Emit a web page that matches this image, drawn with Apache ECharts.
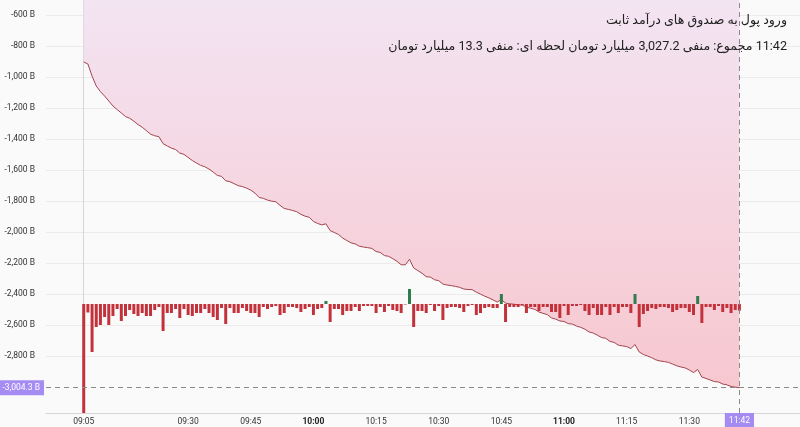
<!DOCTYPE html>
<html><head><meta charset="utf-8">
<script src="https://cdn.jsdelivr.net/npm/echarts@6/dist/echarts.min.js"></script>
<style>html,body{margin:0;padding:0;background:#fafafa}#c{width:800px;height:427px}</style>
</head><body><div id="c"></div>
<script>
const times = ["09:05","09:06","09:07","09:08","09:09","09:10","09:11","09:12","09:13","09:14","09:15","09:16","09:17","09:18","09:19","09:20","09:21","09:22","09:23","09:24","09:25","09:26","09:27","09:28","09:29","09:30","09:31","09:32","09:33","09:34","09:35","09:36","09:37","09:38","09:39","09:40","09:41","09:42","09:43","09:44","09:45","09:46","09:47","09:48","09:49","09:50","09:51","09:52","09:53","09:54","09:55","09:56","09:57","09:58","09:59",
"10:00","10:01","10:02","10:03","10:04","10:05","10:06","10:07","10:08","10:09","10:10","10:11","10:12","10:13","10:14","10:15","10:16","10:17","10:18","10:19","10:20","10:21","10:22","10:23","10:24","10:25","10:26","10:27","10:28","10:29","10:30","10:31","10:32","10:33","10:34","10:35","10:36","10:37","10:38","10:39","10:40","10:41","10:42","10:43","10:44","10:45","10:46","10:47","10:48","10:49","10:50","10:51","10:52","10:53","10:54","10:55","10:56","10:57","10:58","10:59",
"11:00","11:01","11:02","11:03","11:04","11:05","11:06","11:07","11:08","11:09","11:10","11:11","11:12","11:13","11:14","11:15","11:16","11:17","11:18","11:19","11:20","11:21","11:22","11:23","11:24","11:25","11:26","11:27","11:28","11:29","11:30","11:31","11:32","11:33","11:34","11:35","11:36","11:37","11:38","11:39","11:40","11:41","11:42"];

// per-minute flow (billion toman)
const flow = [-900,-17,-96,-46,-42,-26,-42,-24,-10,-34,-24,-12,-20,-24,-18,-24,-24,-12,-6,-54,-18,-18,-10,-28,-10,-22,-24,-18,-18,-10,
-18,-26,-32,-8,-40,-8,-18,-18,-8,-14,-18,-18,-26,-6,-10,-6,-4,-22,-18,-6,-6,-8,-16,-10,-6,
-22,-10,-8,6,-36,-10,-10,-22,-14,-14,-6,-14,-4,-4,-4,-18,-6,-16,-4,-12,-14,-18,-1,30,-46,-14,-14,-18,-2,-14,-4,-32,-8,-6,-6,-8,-16,-4,-2,-22,-18,-8,-6,-8,-8,20,-36,-6,-6,-6,-2,-18,-6,-6,-14,-6,-6,-16,-16,-28,
-4,-22,-4,-4,-2,-14,-22,-8,-22,-22,-6,-22,-6,-18,-6,-6,-18,20,-46,-20,-14,-8,-10,-6,-6,-8,-16,-12,-8,-8,-16,-22,16,-38,-6,-6,-12,-4,-16,-8,-18,-12,-13.3];

// cumulative inflow (billion toman)
const cumulative = [-903,-916,-994,-1058,-1094,-1123,-1155,-1187,-1210,-1232,
-1255,-1266,-1285,-1307,-1324,-1346,-1369,-1379,-1385,-1430,
-1445,-1459,-1468,-1491,-1499,-1519,-1539,-1555,-1570,-1579,
-1594,-1613,-1635,-1641,-1670,-1675,-1688,-1701,-1707,-1717,
-1730,-1749,-1777,-1783,-1794,-1801,-1805,-1828,-1848,-1854,
-1861,-1869,-1886,-1898,-1905,-1932,-1945,-1954,-1947,-1991,
-2003,-2016,-2039,-2055,-2070,-2077,-2092,-2097,-2101,-2106,
-2126,-2132,-2152,-2157,-2172,-2189,-2211,-2212,-2176,-2232,
-2249,-2266,-2288,-2291,-2308,-2314,-2336,-2342,-2346,-2351,
-2357,-2368,-2371,-2372,-2388,-2401,-2414,-2425,-2438,-2452,
-2436,-2459,-2463,-2466,-2470,-2472,-2484,-2492,-2499,-2516,
-2525,-2533,-2555,-2562,-2574,-2577,-2591,-2594,-2607,-2615,
-2627,-2645,-2652,-2666,-2681,-2686,-2706,-2712,-2730,-2735,
-2739,-2752,-2726,-2774,-2790,-2800,-2811,-2825,-2832,-2836,
-2841,-2852,-2863,-2871,-2877,-2890,-2907,-2887,-2936,-2945,
-2955,-2965,-2968,-2981,-2986,-2997,-3001,-3004.3];

const yTicks = [-2800,-2600,-2400,-2200,-2000,-1800,-1600,-1400,-1200,-1000,-800,-600];
const xLabelTimes = ["09:05","09:30","09:45","10:00","10:15","10:30","10:45","11:00","11:15","11:30"];
const boldTimes = ["10:00","11:00"];
const lastTime = "11:42";
const lastValue = -3004.3;
const title1 = "\u202Bورود پول به صندوق های درآمد ثابت\u202C";
const title2 = "\u202B11:42 مجموع: منفی 3,027.2 میلیارد تومان لحظه ای: منفی 13.3 میلیارد تومان\u202C";

const fmt = v => Number(v).toLocaleString('en-US') + ' B';
const xIdx = xLabelTimes.map(t => times.indexOf(t));
const lastIdx = times.indexOf(lastTime);

const chart = echarts.init(document.getElementById('c'), null, {renderer: 'canvas'});
chart.setOption({
  backgroundColor: '#fafafa',
  animation: false,
  grid: {left: 46, right: 0, top: 0, bottom: 14, containLabel: false},
  xAxis: {
    type: 'value', min: -9.03, max: 171.5,
    axisLine: {show: true, onZero: false, lineStyle: {color: '#d6d6d6'}},
    axisTick: {show: false, customValues: xIdx},
    splitLine: {show: false},
    axisLabel: {
      customValues: xIdx, margin: 4, fontSize: 8.5, color: '#333', fontFamily: 'Roboto',
      formatter: v => { const t = times[Math.round(v)]; return boldTimes.includes(t) ? '{b|' + t + '}' : t; },
      rich: {b: {fontWeight: 'bold', fontSize: 8.5, color: '#222', fontFamily: 'Roboto'}}
    }
  },
  yAxis: [{
    type: 'value', min: -3167.7, max: -503.2,
    axisLine: {show: true, lineStyle: {color: '#d6d6d6'}},
    axisTick: {show: false, customValues: yTicks},
    axisLabel: {customValues: yTicks, formatter: fmt, fontSize: 8.5, color: '#333', margin: 11, fontFamily: 'Roboto'},
    splitLine: {show: true, lineStyle: {color: '#ebebeb', width: 1}}
  }, {
    type: 'value', min: -218, max: 608, show: false, splitLine: {show: false}
  }],
  series: [{
    type: 'line', yAxisIndex: 0,
    data: cumulative.map((v, i) => [i, v]),
    symbol: 'none', z: 2,
    lineStyle: {color: '#a3454f', width: 1},
    areaStyle: {origin: 'end', opacity: 1, color: {type: 'linear', x: 0, y: 0, x2: 0, y2: 1,
      colorStops: [{offset: 0, color: '#f3e4f2'}, {offset: 1, color: '#f7c7cf'}]}},
    markLine: {
      symbol: 'none', silent: true,
      lineStyle: {color: '#8a8a8a', type: [5, 4], width: 1},
      data: [
        {xAxis: lastIdx, label: {show: true, position: 'start', formatter: lastTime, distance: 0,
          backgroundColor: '#a48cf2', color: '#fff', padding: [3, 4, 3, 4], fontSize: 8.5, fontFamily: 'Roboto'}},
        {yAxis: lastValue, label: {show: true, position: 'start', formatter: fmt(lastValue), distance: 2,
          backgroundColor: '#a48cf2', color: '#fff', padding: [3, 4, 3, 4], fontSize: 8.5, fontFamily: 'Roboto'}}
      ]
    }
  }, {
    type: 'bar', yAxisIndex: 1, clip: true, z: 3,
    data: flow.map((v, i) => [i, v]),
    barWidth: 3,
    itemStyle: {color: p => p.value[1] >= 0 ? '#2f7d4f' : '#c3323b'}
  }],
  graphic: [
    {type: 'text', right: 13, top: 14, z: 100, style: {text: title1, fontSize: 12.6, fill: '#222', fontFamily: 'Roboto, DejaVu Sans'}},
    {type: 'text', right: 13, top: 40, z: 100, style: {text: title2, fontSize: 12.6, fill: '#222', fontFamily: 'Roboto, DejaVu Sans'}}
  ]
});
</script></body></html>
